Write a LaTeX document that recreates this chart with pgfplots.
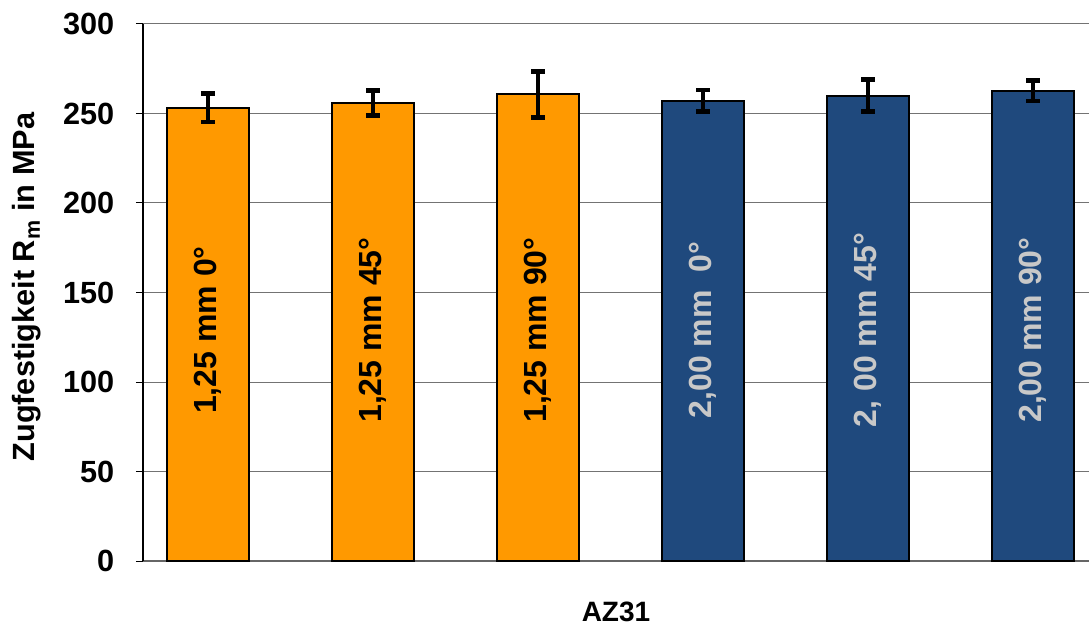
\documentclass[border=0pt]{standalone}
\usepackage{pgfplots}
\pgfplotsset{compat=1.18}
\usepackage{fontspec}
\setmainfont{Liberation Sans}
\definecolor{orng}{HTML}{FF9900}
\definecolor{navy}{HTML}{1F497D}
\definecolor{lbl}{HTML}{C8C8C8}
\begin{document}
\begin{tikzpicture}
\begin{axis}[
  scale only axis, width=709.5pt, height=402.75pt,
  xmin=-0.394, xmax=5.339, ymin=0, ymax=300,
  ytick={0,50,...,300}, xtick=\empty,
  axis line style={draw=none},
  ytick pos=left, tick align=outside, major tick length=5.25pt,
  tick style={black, line width=0.75pt},
  ymajorgrids, major grid style={color=black!55, line width=0.75pt},
  /pgf/number format/assume math mode=true,
  yticklabel style={font=\bfseries\fontsize{23}{23}\selectfont, xshift=-12.75pt},
  ylabel={Zugfestigkeit R\textsubscript{m} in MPa},
  every axis y label/.style={at={(rel axis cs:0,0.51)}, xshift=-87pt, rotate=90, anchor=center, font=\bfseries\fontsize{23}{23}\selectfont},
  clip=false,
]
\draw[black!60, line width=1pt] (rel axis cs:0,0) -- (rel axis cs:1,0);
\addplot[ybar, bar shift=0pt, bar width=61.5pt, fill=orng, draw=black, line width=1.5pt,
  error bars/.cd, y dir=both, y explicit,
  error bar style={line width=3pt, black},
  error mark options={rotate=90, line width=3.5pt, mark size=5pt, black}]
  coordinates {(0,253.2) +- (0,8.0) (1,256.0) +- (0,7.0) (2,260.7) +- (0,12.8)};
\addplot[ybar, bar shift=0pt, bar width=61.5pt, fill=navy, draw=black, line width=1.5pt,
  error bars/.cd, y dir=both, y explicit,
  error bar style={line width=3pt, black},
  error mark options={rotate=90, line width=3.5pt, mark size=5pt, black}]
  coordinates {(3,257.2) +- (0,6.0) (4,260.0) +- (0,8.9) (5,262.8) +- (0,5.8)};
\draw[black, line width=1.5pt] (rel axis cs:0,0) -- (rel axis cs:0,1);
\begin{scope}[every node/.style={rotate=90, anchor=center, font=\bfseries\fontsize{24}{24}\selectfont}]
\node[text=black] at (axis cs:0,129) {1,25 mm 0°};
\node[text=black] at (axis cs:1,129) {1,25 mm 45°};
\node[text=black] at (axis cs:2,129) {1,25 mm 90°};
\node[text=lbl] at (axis cs:3,129) {2,00 mm\ \ 0°};
\node[text=lbl] at (axis cs:4,129) {2, 00 mm 45°};
\node[text=lbl] at (axis cs:5,129) {2,00 mm 90°};
\end{scope}
\node[font=\bfseries\fontsize{21}{21}\selectfont, anchor=center] at ([yshift=-38.5pt]rel axis cs:0.5,0) {AZ31};
\coordinate (BL) at (rel axis cs:0,0);
\coordinate (TR) at (rel axis cs:1,1);
\end{axis}
\pgfresetboundingbox
\path ([xshift=-107.25pt,yshift=-50.25pt]BL) rectangle ([yshift=18pt]TR);
\end{tikzpicture}
\end{document}
